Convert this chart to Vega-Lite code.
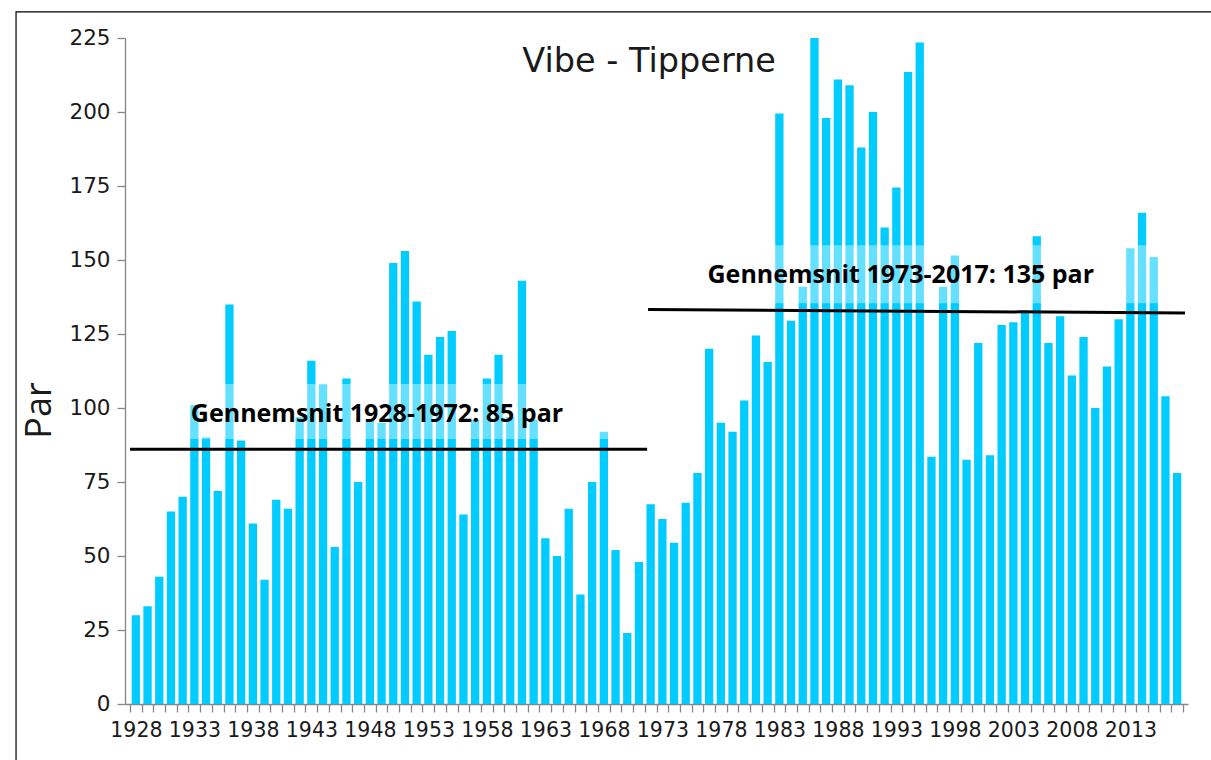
{
  "$schema": "https://vega.github.io/schema/vega-lite/v6.json",
  "autosize": {"type": "none"},
  "width": 1063,
  "height": 666,
  "padding": {"left": 125, "top": 38, "right": 23, "bottom": 56},
  "background": "white",
  "config": {"view": {"stroke": null}, "axis": {"labelOverlap": false}},
  "datasets": {
    "bars": [
      {"year": 1928, "par": 30}, {"year": 1929, "par": 33}, {"year": 1930, "par": 43}, {"year": 1931, "par": 65}, {"year": 1932, "par": 70},
      {"year": 1933, "par": 101}, {"year": 1934, "par": 90}, {"year": 1935, "par": 72}, {"year": 1936, "par": 135}, {"year": 1937, "par": 89},
      {"year": 1938, "par": 61}, {"year": 1939, "par": 42}, {"year": 1940, "par": 69}, {"year": 1941, "par": 66}, {"year": 1942, "par": 97},
      {"year": 1943, "par": 116}, {"year": 1944, "par": 108}, {"year": 1945, "par": 53}, {"year": 1946, "par": 110}, {"year": 1947, "par": 75},
      {"year": 1948, "par": 96}, {"year": 1949, "par": 95}, {"year": 1950, "par": 149}, {"year": 1951, "par": 153}, {"year": 1952, "par": 136},
      {"year": 1953, "par": 118}, {"year": 1954, "par": 124}, {"year": 1955, "par": 126}, {"year": 1956, "par": 64}, {"year": 1957, "par": 96},
      {"year": 1958, "par": 110}, {"year": 1959, "par": 118}, {"year": 1960, "par": 97}, {"year": 1961, "par": 143}, {"year": 1962, "par": 96},
      {"year": 1963, "par": 56}, {"year": 1964, "par": 50}, {"year": 1965, "par": 66}, {"year": 1966, "par": 37}, {"year": 1967, "par": 75},
      {"year": 1968, "par": 92}, {"year": 1969, "par": 52}, {"year": 1970, "par": 24}, {"year": 1971, "par": 48}, {"year": 1972, "par": 67.5},
      {"year": 1973, "par": 62.5}, {"year": 1974, "par": 54.5}, {"year": 1975, "par": 68}, {"year": 1976, "par": 78}, {"year": 1977, "par": 120},
      {"year": 1978, "par": 95}, {"year": 1979, "par": 92}, {"year": 1980, "par": 102.5}, {"year": 1981, "par": 124.5}, {"year": 1982, "par": 115.5},
      {"year": 1983, "par": 199.5}, {"year": 1984, "par": 129.5}, {"year": 1985, "par": 141}, {"year": 1986, "par": 225}, {"year": 1987, "par": 198},
      {"year": 1988, "par": 211}, {"year": 1989, "par": 209}, {"year": 1990, "par": 188}, {"year": 1991, "par": 200}, {"year": 1992, "par": 161},
      {"year": 1993, "par": 174.5}, {"year": 1994, "par": 213.5}, {"year": 1995, "par": 223.5}, {"year": 1996, "par": 83.5}, {"year": 1997, "par": 141},
      {"year": 1998, "par": 151.5}, {"year": 1999, "par": 82.5}, {"year": 2000, "par": 122}, {"year": 2001, "par": 84}, {"year": 2002, "par": 128},
      {"year": 2003, "par": 129}, {"year": 2004, "par": 133}, {"year": 2005, "par": 158}, {"year": 2006, "par": 122}, {"year": 2007, "par": 131},
      {"year": 2008, "par": 111}, {"year": 2009, "par": 124}, {"year": 2010, "par": 100}, {"year": 2011, "par": 114}, {"year": 2012, "par": 130},
      {"year": 2013, "par": 154}, {"year": 2014, "par": 166}, {"year": 2015, "par": 151}, {"year": 2016, "par": 104}, {"year": 2017, "par": 78}
    ],
    "averages": [
      {"x": 1927.5, "x2": 1971.7, "y": 86.1, "y2": 86.1},
      {"x": 1971.78, "x2": 2017.67, "y": 133.3, "y2": 132.1}
    ],
    "boxes": [
      {"x": 1932.2, "x2": 1972.0, "y": 89.5, "y2": 108.1},
      {"x": 1976.2, "x2": 2016.0, "y": 135.4, "y2": 155.0}
    ],
    "labels": [
      {"label": "Gennemsnit 1928-1972: 85 par", "x": 1932.7, "y": 95.4},
      {"label": "Gennemsnit 1973-2017: 135 par", "x": 1976.86, "y": 142.3}
    ],
    "heading": [
      {"label": "Vibe - Tipperne", "x": 1971.87, "y": 213.6}
    ],
    "frame": [
      {"x": 1917.76, "x2": 2021.5, "y": 233.8, "y2": -30}
    ]
  },
  "layer": [
    {
      "data": {"name": "bars"},
      "mark": {"type": "bar", "size": 8.3, "color": "#00CCFF"},
      "encoding": {
        "x": {
          "field": "year", "type": "quantitative",
          "scale": {"domain": [1927.5, 2017.5], "nice": false, "zero": false},
          "title": null,
          "axis": {
            "values": [1927.5,1928.5,1929.5,1930.5,1931.5,1932.5,1933.5,1934.5,1935.5,1936.5,1937.5,1938.5,1939.5,1940.5,1941.5,1942.5,1943.5,1944.5,1945.5,1946.5,1947.5,1948.5,1949.5,1950.5,1951.5,1952.5,1953.5,1954.5,1955.5,1956.5,1957.5,1958.5,1959.5,1960.5,1961.5,1962.5,1963.5,1964.5,1965.5,1966.5,1967.5,1968.5,1969.5,1970.5,1971.5,1972.5,1973.5,1974.5,1975.5,1976.5,1977.5,1978.5,1979.5,1980.5,1981.5,1982.5,1983.5,1984.5,1985.5,1986.5,1987.5,1988.5,1989.5,1990.5,1991.5,1992.5,1993.5,1994.5,1995.5,1996.5,1997.5,1998.5,1999.5,2000.5,2001.5,2002.5,2003.5,2004.5,2005.5,2006.5,2007.5,2008.5,2009.5,2010.5,2011.5,2012.5,2013.5,2014.5,2015.5,2016.5,2017.5],
            "tickCount": 200,
            "labelExpr": "(datum.value - 1927.5) % 5 === 0 && datum.value < 2017 ? '' + (datum.value + 0.5) : ''",
            "labelOffset": 5.9,
            "labelOverlap": false,
            "labelFlush": false,
            "labelBound": false,
            "labelFont": "DejaVu Sans",
            "labelFontSize": 20.5,
            "labelColor": "#1a1a1a",
            "labelPadding": 8,
            "tickSize": 8,
            "tickColor": "#868686",
            "tickWidth": 1.3,
            "domainColor": "#868686",
            "domainWidth": 1.3,
            "grid": false
          }
        },
        "y": {
          "field": "par", "type": "quantitative",
          "scale": {"domain": [0, 225], "nice": false, "zero": false},
          "title": "Par",
          "axis": {
            "values": [0, 25, 50, 75, 100, 125, 150, 175, 200, 225],
            "tickCount": 50,
            "labelFont": "DejaVu Sans",
            "labelFontSize": 21.5,
            "labelColor": "#1a1a1a",
            "labelPadding": 7,
            "tickSize": 8,
            "tickColor": "#868686",
            "tickWidth": 1.3,
            "domainColor": "#868686",
            "domainWidth": 1.3,
            "grid": false,
            "titleFont": "Open Sans",
            "titleFontSize": 36,
            "titleFontWeight": "normal",
            "titleColor": "#1a1a1a",
            "titleAngle": -90,
            "titleBaseline": "alphabetic",
            "titleAlign": "center",
            "titleX": -75,
            "titleY": 372
          }
        }
      }
    },
    {
      "data": {"name": "frame"},
      "mark": {"type": "rect", "fill": null, "stroke": "black", "strokeWidth": 1.2, "clip": false},
      "encoding": {
        "x": {"field": "x", "type": "quantitative", "scale": {"domain": [1927.5, 2017.5], "nice": false, "zero": false}, "title": null},
        "x2": {"field": "x2"},
        "y": {"field": "y", "type": "quantitative", "scale": {"domain": [0, 225], "nice": false, "zero": false}, "title": "Par"},
        "y2": {"field": "y2"}
      }
    },
    {
      "data": {"name": "boxes"},
      "mark": {"type": "rect", "color": "white", "opacity": 0.4},
      "encoding": {
        "x": {"field": "x", "type": "quantitative", "scale": {"domain": [1927.5, 2017.5], "nice": false, "zero": false}, "title": null},
        "x2": {"field": "x2"},
        "y": {"field": "y", "type": "quantitative", "scale": {"domain": [0, 225], "nice": false, "zero": false}, "title": "Par"},
        "y2": {"field": "y2"}
      }
    },
    {
      "data": {"name": "averages"},
      "mark": {"type": "rule", "color": "black", "strokeWidth": 3},
      "encoding": {
        "x": {"field": "x", "type": "quantitative", "scale": {"domain": [1927.5, 2017.5], "nice": false, "zero": false}, "title": null},
        "x2": {"field": "x2"},
        "y": {"field": "y", "type": "quantitative", "scale": {"domain": [0, 225], "nice": false, "zero": false}, "title": "Par"},
        "y2": {"field": "y2"}
      }
    },
    {
      "data": {"name": "labels"},
      "mark": {"type": "text", "font": "Open Sans", "fontWeight": "bold", "fontSize": 25, "align": "left", "baseline": "alphabetic", "color": "black"},
      "encoding": {
        "x": {"field": "x", "type": "quantitative", "scale": {"domain": [1927.5, 2017.5], "nice": false, "zero": false}, "title": null},
        "y": {"field": "y", "type": "quantitative", "scale": {"domain": [0, 225], "nice": false, "zero": false}, "title": "Par"},
        "text": {"field": "label"}
      }
    },
    {
      "data": {"name": "heading"},
      "mark": {"type": "text", "font": "DejaVu Sans", "fontSize": 33.5, "align": "center", "baseline": "alphabetic", "color": "#1a1a1a"},
      "encoding": {
        "x": {"field": "x", "type": "quantitative", "scale": {"domain": [1927.5, 2017.5], "nice": false, "zero": false}, "title": null},
        "y": {"field": "y", "type": "quantitative", "scale": {"domain": [0, 225], "nice": false, "zero": false}, "title": "Par"},
        "text": {"field": "label"}
      }
    }
  ]
}
